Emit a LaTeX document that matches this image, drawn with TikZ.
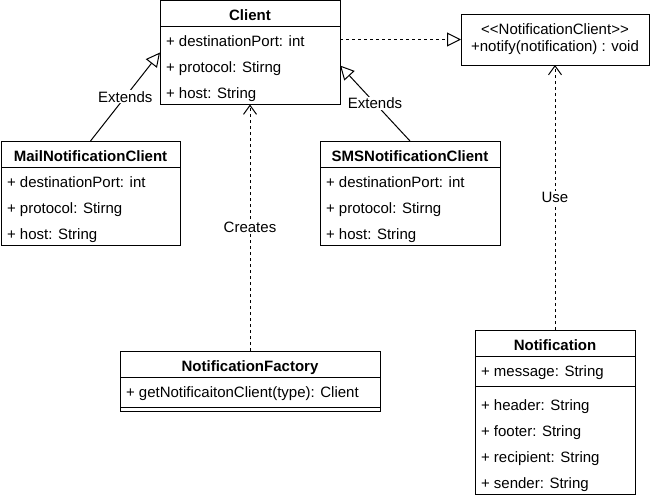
\documentclass[tikz,border=0pt]{standalone}
\usepackage{fontspec}
\setmainfont{Liberation Sans}
\usetikzlibrary{arrows.meta,fit,positioning}

\begin{document}
\begin{tikzpicture}[x=1pt,y=-1pt,font=\fontsize{15}{17}\selectfont]
\tikzset{
    %Define style for class name boxes
    classhead/.style={
           rectangle,
           draw=black, line width=1pt,
           font=\fontsize{15}{17}\selectfont\bfseries,
           inner sep=0pt, outer sep=0pt,
           minimum height=26pt,
           text height=14pt, text depth=0pt,
           anchor=north west},
    %Define style for attribute rows
    member/.style={
           rectangle,
           inner xsep=6pt, inner ysep=0pt, outer sep=0pt,
           minimum height=26pt,
           text height=14pt, text depth=0pt,
           anchor=north west},
    %Define style for the outer class frame
    classframe/.style={
           rectangle,
           draw=black, line width=1pt,
           inner sep=0pt, outer sep=0pt},
    iface/.style={
           rectangle,
           draw=black, line width=1pt,
           align=center,
           minimum width=188pt,
           minimum height=51pt,
           inner sep=0pt, outer sep=0pt,
           anchor=north west},
    % Define arrow styles
    inherit/.style={
           line width=1pt,
           -{Triangle[open,length=14pt,width=14pt]}},
    realize/.style={
           line width=1pt,
           dash pattern=on 3pt off 3pt,
           -{Triangle[open,length=14pt,width=14pt]}},
    dep/.style={
           line width=1pt,
           dash pattern=on 3pt off 3pt,
           -{Straight Barb[length=9pt,width=13pt]}},
    lbl/.style={
           fill=white,
           inner sep=1pt,
           midway}
}
	\useasboundingbox (0,0) rectangle (651,498);
 %nodes

	\node[classhead,minimum width=180pt] (clienthead) at (160,0.5) {Client};
	\node[member] (clientf1) at (clienthead.south west) {+ destinationPort: int};
	\node[member] (clientf2) at (clientf1.south west) {+ protocol: Stirng};
	\node[member] (clientf3) at (clientf2.south west) {+ host: String};
	\node[classframe,fit=(clienthead)(clientf3)] (client) {};

	\node[iface] (notifier) at (461,14) {<{}<NotificationClient>{}>\\+notify(notification) : void};

	\node[classhead,minimum width=179pt] (mailhead) at (1,141) {MailNotificationClient};
	\node[member] (mailf1) at (mailhead.south west) {+ destinationPort: int};
	\node[member] (mailf2) at (mailf1.south west) {+ protocol: Stirng};
	\node[member] (mailf3) at (mailf2.south west) {+ host: String};
	\node[classframe,fit=(mailhead)(mailf3)] (mail) {};

	\node[classhead,minimum width=180pt] (smshead) at (320,141) {SMSNotificationClient};
	\node[member] (smsf1) at (smshead.south west) {+ destinationPort: int};
	\node[member] (smsf2) at (smsf1.south west) {+ protocol: Stirng};
	\node[member] (smsf3) at (smsf2.south west) {+ host: String};
	\node[classframe,fit=(smshead)(smsf3)] (sms) {};

	\node[classhead,minimum width=260pt] (facthead) at (120,351) {NotificationFactory};
	\node[member] (factf1) at (facthead.south west) {+ getNotificaitonClient(type): Client};
	\coordinate (factsep) at ([yshift=-4pt]factf1.south west);
	\coordinate (factend) at ([yshift=-8pt]factf1.south west);
	\node[classframe,fit=(facthead)(factend)] (factory) {};
	\draw[line width=1pt] (factsep) -- (factsep -| factory.east);

	\node[classhead,minimum width=160pt] (notehead) at (475,330) {Notification};
	\node[member] (notef1) at (notehead.south west) {+ message: String};
	\coordinate (notesep) at ([yshift=-4pt]notef1.south west);
	\node[member] (notef2) at ([yshift=-8pt]notef1.south west) {+ header: String};
	\node[member] (notef3) at (notef2.south west) {+ footer: String};
	\node[member] (notef4) at (notef3.south west) {+ recipient: String};
	\node[member] (notef5) at (notef4.south west) {+ sender: String};
	\node[classframe,fit=(notehead)(notef5)] (note) {};
	\draw[line width=1pt] (notesep) -- (notesep -| note.east);

	\path (notifier.west -| client.east) edge[realize] (notifier.west);
	\path (mailhead.north) edge[inherit] node[lbl] {Extends} (client.west);
	\path (smshead.north) edge[inherit] node[lbl] {Extends} (client.east |- clientf2);
	\path (facthead.north) edge[dep] node[lbl] {Creates} (client.south);
	\path (notehead.north) edge[dep] node[lbl] {Use} (notifier.south);

\end{tikzpicture}
\end{document}
